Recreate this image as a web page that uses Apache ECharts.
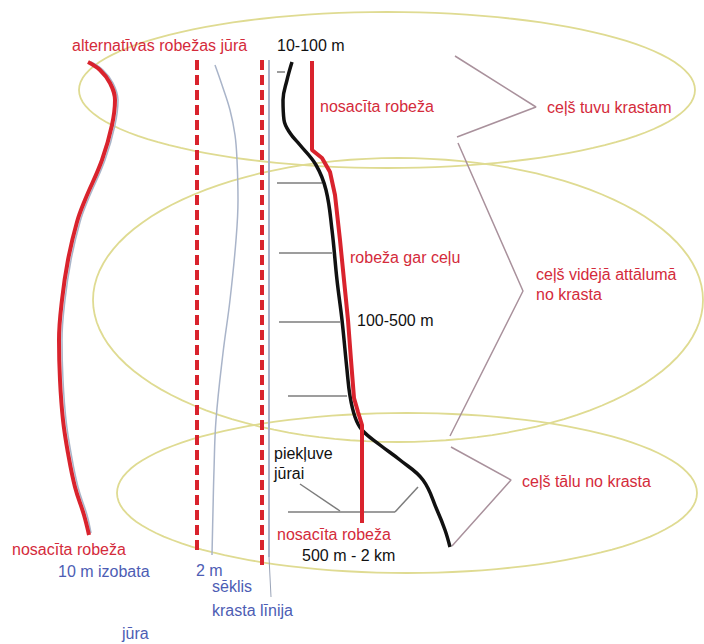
<!DOCTYPE html>
<html>
<head>
<meta charset="utf-8">
<script src="https://cdn.jsdelivr.net/npm/echarts@6/dist/echarts.min.js"></script>
<style>
html,body{margin:0;padding:0;background:#fff;}
#c{width:704px;height:644px;}
</style>
</head>
<body>
<div id="c"></div>
<script>
// ---------- data (diagram space: x 0..704, y 0..644 top-down) ----------
const zoneNames = ['ceļš tuvu krastam', 'ceļš vidējā attālumā', 'ceļš tālu no krasta'];
const zoneCenterX = [387, 398, 407];
const zoneCenterY = [90, 300, 493];
const zoneRadiusX = [308, 305, 290];
const zoneRadiusY = [78, 142, 80];

const isobathRedX = [88, 100, 110, 115, 112, 102, 85, 77, 68, 62, 59, 60, 63, 68, 75, 84, 89];
const isobathRedY = [62, 70, 83, 100, 125, 160, 200, 222, 260, 300, 340, 380, 420, 453, 487, 515, 535];
const isobathBlueX = [91, 103, 113, 118, 115, 105, 88, 80, 71, 65, 62, 63, 66, 71, 78, 87, 91];
const isobathBlueY = [62, 70, 83, 100, 125, 160, 200, 222, 260, 300, 340, 380, 420, 453, 487, 515, 533];

const sandbarX = [215, 222, 230, 235, 237, 238, 236, 230, 223, 216, 214, 213, 212];
const sandbarY = [65, 85, 110, 135, 160, 200, 240, 300, 353, 420, 470, 510, 555];

const dashLineX = [197, 262];
const dashTopY = [60, 60];
const dashBottomY = [555, 565];

const shoreX = [269, 269, 271];
const shoreY = [60, 557, 597];

const roadX = [292, 287, 283, 284, 290, 300, 316, 326, 332, 337, 342, 347, 350, 355, 362, 380, 400, 423, 437, 445, 450];
const roadY = [62, 80, 100, 120, 133, 145, 165, 190, 230, 280, 320, 370, 396, 417, 430, 445, 460, 480, 510, 530, 547];

const limitX = [312, 312, 322, 330, 335, 340, 344, 348, 351, 354, 358, 362, 362];
const limitY = [61, 150, 158, 172, 195, 240, 280, 320, 360, 398, 412, 425, 523];

// gray access ticks: [x1, y1, x2, y2]
const tickX1 = [277, 277, 279, 279, 288, 288, 395, 300];
const tickY1 = [72, 183, 253, 322, 396, 512, 512, 484];
const tickX2 = [285, 322, 332, 340, 347, 395, 418, 340];
const tickY2 = [72, 183, 253, 322, 396, 512, 487, 511];

// bracket polylines
const bracketX = [[455, 536, 457], [458, 523, 450], [451, 511, 452]];
const bracketY = [[56, 107, 137], [143, 291, 436], [447, 480, 546]];

// text labels
const labelText = ['alternatīvas robežas jūrā', '10-100 m', 'nosacīta robeža', 'ceļš tuvu krastam',
  'robeža gar ceļu', 'ceļš vidējā attālumā', 'no krasta', '100-500 m', 'piekļuve', 'jūrai',
  'ceļš tālu no krasta', 'nosacīta robeža', '500 m - 2 km', 'nosacīta robeža', '10 m izobata',
  '2 m', 'sēklis', 'krasta līnija', 'jūra'];
const labelX = [72, 277, 320, 547, 350, 536, 536, 357, 274, 274, 522, 277, 302, 12, 58, 196, 212, 212, 122];
const labelY = [45, 45, 106, 107, 257, 274, 294, 320, 453, 473, 481, 534, 555, 549, 571, 570, 586, 610, 633];
const labelKind = ['r', 'k', 'r', 'r', 'r', 'r', 'r', 'k', 'k', 'k', 'r', 'r', 'k', 'r', 'b', 'b', 'b', 'b', 'b'];

// ---------- build ----------
const RED = '#d9232d', TXT_RED = '#d42b3b', BLUE_TXT = '#4d5db4', GRAY = '#7c7c7c', PALE = '#a9b4c9';
const kindColor = {r: TXT_RED, k: '#111', b: BLUE_TXT};
const zip = (xs, ys) => xs.map((x, i) => [x, ys[i]]);

function lineSeries(data, color, width, smooth, type) {
  return {type: 'line', data, smooth: smooth, symbol: 'none', silent: true, animation: false,
    lineStyle: {color, width, type: type || 'solid', cap: 'butt'}, z: 3};
}

const series = [];
series.push({
  type: 'custom', silent: true, animation: false, z: 1,
  data: zoneNames.map((n, i) => [zoneCenterX[i], zoneCenterY[i], zoneRadiusX[i], zoneRadiusY[i]]),
  renderItem(params, api) {
    const cx = api.value(0), cy = api.value(1), rx = api.value(2), ry = api.value(3);
    const pts = [];
    for (let k = 0; k < 120; k++) {
      const t = k / 120 * Math.PI * 2;
      pts.push(api.coord([cx + rx * Math.cos(t), cy + ry * Math.sin(t)]));
    }
    return {type: 'polygon', shape: {points: pts}, style: {fill: 'none', stroke: '#dfdb92', lineWidth: 1.8}};
  }
});
series.push(lineSeries(zip(isobathBlueX, isobathBlueY), PALE, 1.5, 0.4));
series.push(lineSeries(zip(isobathRedX, isobathRedY), RED, 4, 0.4));
series.push(lineSeries(zip(sandbarX, sandbarY), PALE, 1.5, 0.4));
dashLineX.forEach((x, i) => series.push(lineSeries([[x, dashTopY[i]], [x, dashBottomY[i]]], RED, 4, false, [10, 5])));
series.push(lineSeries(zip(shoreX.slice(0, 2), shoreY.slice(0, 2)), PALE, 2, false));
series.push(lineSeries(zip(shoreX.slice(1), shoreY.slice(1)), '#9aa4b8', 1, false));
tickX1.forEach((x, i) => series.push(lineSeries([[x, tickY1[i]], [tickX2[i], tickY2[i]]], GRAY, 1.5, false)));
bracketX.forEach((xs, i) => series.push(lineSeries(zip(xs, bracketY[i]), '#a9919c', 1.5, false)));
series.push(lineSeries(zip(roadX, roadY), '#111', 3.5, 0.4));
series.push(lineSeries(zip(limitX, limitY), RED, 4, false));
series.push({
  type: 'custom', silent: true, animation: false, z: 5,
  data: labelText.map((t, i) => [labelX[i], labelY[i], i]),
  renderItem(params, api) {
    const i = api.value(2);
    const p = api.coord([api.value(0), api.value(1)]);
    return {type: 'text', x: p[0], y: p[1],
      style: {text: labelText[i], fill: kindColor[labelKind[i]],
        font: '16px "Liberation Sans", Arial, sans-serif', textAlign: 'left', textVerticalAlign: 'middle'}};
  }
});

const chart = echarts.init(document.getElementById('c'), null, {renderer: 'svg'});
chart.setOption({
  backgroundColor: '#fff',
  animation: false,
  grid: {left: 0, right: 0, top: 0, bottom: 0},
  xAxis: {type: 'value', min: 0, max: 704, show: false},
  yAxis: {type: 'value', min: 0, max: 644, inverse: true, show: false},
  series
});
</script>
</body>
</html>
